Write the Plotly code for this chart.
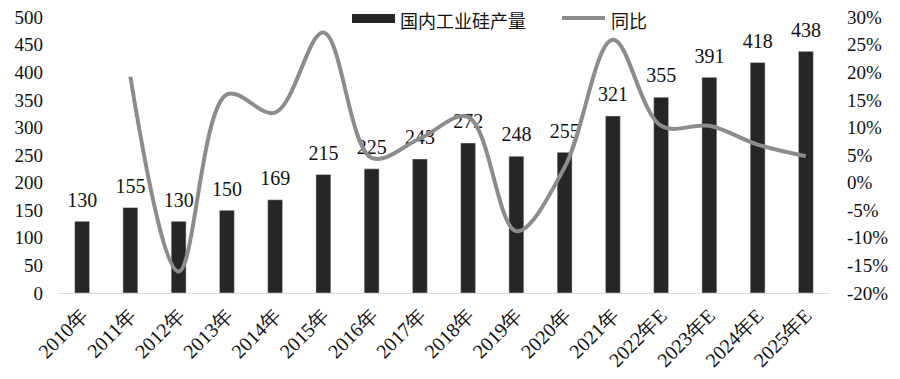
import plotly.graph_objects as go

years = ["2010年", "2011年", "2012年", "2013年", "2014年", "2015年", "2016年", "2017年",
         "2018年", "2019年", "2020年", "2021年", "2022年E", "2023年E", "2024年E", "2025年E"]
output = [130, 155, 130, 150, 169, 215, 225, 243, 272, 248, 255, 321, 355, 391, 418, 438]
yoy = [None, 0.192, -0.161, 0.160, 0.127, 0.272, 0.045, 0.080, 0.119, -0.088, 0.028,
       0.259, 0.103, 0.103, 0.069, 0.048]
left_ticks = [0, 50, 100, 150, 200, 250, 300, 350, 400, 450, 500]
right_ticks = [-0.20, -0.15, -0.10, -0.05, 0, 0.05, 0.10, 0.15, 0.20, 0.25, 0.30]
right_labels = ["-20%", "-15%", "-10%", "-5%", "0%", "5%", "10%", "15%", "20%", "25%", "30%"]

FONT = "Liberation Serif"
CJK = "Noto Sans CJK SC"
BAR_C = "#262626"
LINE_C = "#8c8c8c"

# page body has an 8px margin; compensate so the plot sits where the reference has it
OFF = 8
L, T, PW, PH = 58 - OFF, 17 - OFF, 772, 276
W, H = 900 - OFF, 379 - OFF


def px(x):
    return (x - 58) / PW


def py(y):
    return 1 - (y - 17) / PH


fig = go.Figure()
fig.add_trace(go.Bar(
    x=years, y=output, name="国内工业硅产量", marker_color=BAR_C, width=0.31,
    showlegend=False, hoverinfo="skip",
))
fig.add_trace(go.Scatter(
    x=years, y=output, mode="markers+text", text=[str(v) for v in output],
    marker=dict(size=14, color="rgba(0,0,0,0)"),
    textposition="top center", cliponaxis=False, showlegend=False, hoverinfo="skip",
    textfont=dict(family=FONT, size=20, color="#111"),
))
fig.add_trace(go.Scatter(
    x=years, y=yoy, name="同比", yaxis="y2", mode="lines",
    line=dict(color=LINE_C, width=4, shape="spline", smoothing=1.0),
    connectgaps=False, showlegend=False,
))

fig.update_layout(
    width=W, height=H,
    margin=dict(l=L, r=W - L - PW, t=T, b=H - T - PH, autoexpand=False),
    paper_bgcolor="white", plot_bgcolor="white",
    font=dict(family=FONT, size=18, color="#111"),
    bargap=0.69,
    xaxis=dict(range=[-0.5, len(years) - 0.5], tickangle=-45, showgrid=False,
               showline=True, linecolor="#d9d9d9", linewidth=1, ticks="",
               automargin=False, ticklabelstandoff=2, ticklabeloverflow="allow",
               tickfont=dict(family=FONT, size=20, color="#111")),
    yaxis=dict(range=[0, 500.3], tickvals=left_ticks, showgrid=False, zeroline=False,
               showline=False, ticks="", ticklabelstandoff=14, automargin=False,
               ticklabeloverflow="allow",
               tickfont=dict(family=FONT, size=19, color="#111")),
    yaxis2=dict(range=[-0.20, 0.3003], tickvals=right_ticks, ticktext=right_labels,
                overlaying="y", side="right", showgrid=False, zeroline=False,
                showline=False, ticks="", ticklabelstandoff=16, automargin=False,
                ticklabeloverflow="allow",
                tickfont=dict(family=FONT, size=19, color="#111")),
    shapes=[
        dict(type="rect", xref="paper", yref="paper", x0=px(352), x1=px(395),
             y0=py(23), y1=py(14), fillcolor=BAR_C, line=dict(width=0)),
        dict(type="line", xref="paper", yref="paper", x0=px(562), x1=px(605),
             y0=py(18), y1=py(18), line=dict(color=LINE_C, width=4)),
    ],
    annotations=[
        dict(text="国内工业硅产量", xref="paper", yref="paper", x=px(398),
             y=py(20), xanchor="left", yanchor="middle", showarrow=False,
             font=dict(family=CJK, size=18, color="#111")),
        dict(text="同比", xref="paper", yref="paper", x=px(609),
             y=py(20), xanchor="left", yanchor="middle", showarrow=False,
             font=dict(family=CJK, size=18, color="#111")),
    ],
)

fig.write_html("out.html")
